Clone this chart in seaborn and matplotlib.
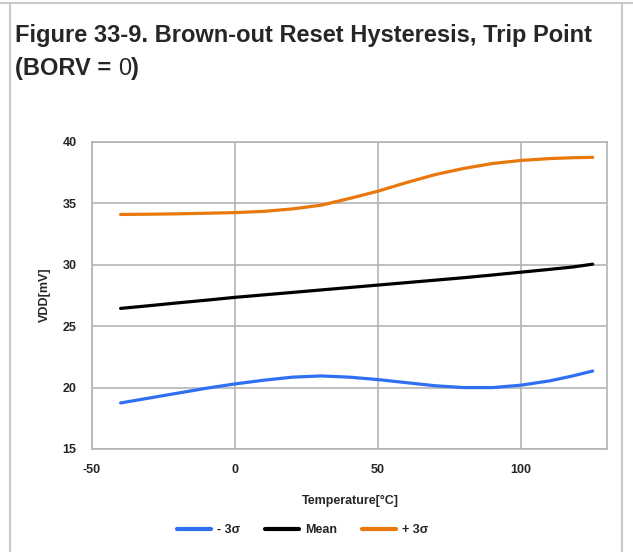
import matplotlib
matplotlib.use('Agg')
import matplotlib.pyplot as plt
from matplotlib.lines import Line2D
import pandas as pd
import seaborn as sns

# values
temps = [-40, -30, -20, -10, 0, 10, 20, 30, 40, 50, 60, 70, 80, 90, 100, 110, 118, 125]
minus_3s = [18.75, 19.15, 19.55, 19.95, 20.3, 20.6, 20.85, 20.95, 20.85, 20.65,
            20.4, 20.15, 20.0, 20.0, 20.2, 20.55, 20.95, 21.35]
mean = [26.45, 26.67, 26.9, 27.12, 27.35, 27.55, 27.75, 27.95, 28.15, 28.35,
        28.55, 28.75, 28.95, 29.17, 29.4, 29.63, 29.82, 30.05]
plus_3s = [34.1, 34.12, 34.15, 34.2, 34.25, 34.35, 34.55, 34.85, 35.4, 36.0,
           36.7, 37.35, 37.85, 38.25, 38.5, 38.65, 38.72, 38.75]

series = ['- 3σ', 'Mean', '+ 3σ']
colors = ['#2f6ff3', '#000000', '#e8770c']

n = len(temps)
df = pd.DataFrame({
    'Temperature': temps * 3,
    'VDD': minus_3s + mean + plus_3s,
    'series': [series[0]] * n + [series[1]] * n + [series[2]] * n,
})

sns.set_style('white')
plt.rcParams['font.family'] = ['Liberation Sans', 'DejaVu Sans']
plt.rcParams['axes.unicode_minus'] = False

W, H = 633, 552
fig = plt.figure(figsize=(W / 100, H / 100), dpi=100)
ax = fig.add_axes([92 / W, 1 - 449 / H, (607 - 92) / W, (449 - 142) / H])

sns.lineplot(data=df, x='Temperature', y='VDD', hue='series', hue_order=series,
             palette=dict(zip(series, colors)), linewidth=2.3, legend=False, ax=ax)

grey = '#b4b4b4'
ax.set_xlim(-50, 130)
ax.set_ylim(15, 40)
ax.set_xticks([-50, 0, 50, 100])
ax.set_xticks([-25, 25, 75, 125], minor=True)
ax.set_yticks([15, 20, 25, 30, 35, 40])
ax.set_yticks([17.5, 22.5, 27.5, 32.5, 37.5], minor=True)
ax.grid(True, which='major', color=grey, linewidth=1.2)
for s in ax.spines.values():
    s.set_color(grey)
    s.set_linewidth(1.2)
ax.tick_params(axis='y', which='major', direction='out', color=grey, width=1.2, length=8.5, pad=2.5)
ax.tick_params(axis='y', which='minor', direction='out', color=grey, width=1.2, length=4.3)
ax.tick_params(axis='x', which='major', direction='out', color=grey, width=1.2, length=6.5, pad=4)
ax.tick_params(axis='x', which='minor', direction='out', color=grey, width=1.2, length=3)
ax.tick_params(labelsize=9)
for lab in ax.get_xticklabels() + ax.get_yticklabels():
    lab.set_fontweight('bold')
ax.set_xlabel('')
ax.set_ylabel('')

fig.text(45 / W, 1 - 295 / H, 'VDD[mV]', rotation=90, ha='center', va='center',
         fontsize=9, fontweight='bold')
fig.text(350 / W, 1 - 501 / H, 'Temperature[°C]', ha='center', va='center',
         fontsize=9, fontweight='bold')

handles = [Line2D([], [], color=c, linewidth=3) for c in colors]
fig.legend(handles, series, loc='center', bbox_to_anchor=(303 / W, 1 - 530 / H), ncol=3,
           frameon=False, handlelength=2.7, handletextpad=0.5, columnspacing=2.0,
           prop={'size': 9, 'weight': 'bold'})

# title, with a plain-weight "0"
fig.text(15 / W, 1 - 42 / H, 'Figure 33-9. Brown-out Reset Hysteresis, Trip Point',
         fontsize=17, fontweight='bold', va='baseline')
t1 = fig.text(15 / W, 1 - 75 / H, '(BORV = ', fontsize=17, fontweight='bold', va='baseline')
fig.canvas.draw()
x1 = t1.get_window_extent().x1 / W
t2 = fig.text(x1, 1 - 75 / H, '0', fontsize=17, va='baseline')
fig.canvas.draw()
x2 = t2.get_window_extent().x1 / W
fig.text(x2, 1 - 75 / H, ')', fontsize=17, fontweight='bold', va='baseline')

# frame around the figure
border = '#c8c8c8'
fig.add_artist(Line2D([0, 1], [1 - 3 / H, 1 - 3 / H], color=border, linewidth=1.5))
fig.add_artist(Line2D([10 / W, 10 / W], [0, 1 - 3 / H], color=border, linewidth=1.5))
fig.add_artist(Line2D([622 / W, 622 / W], [0, 1 - 3 / H], color=border, linewidth=1.5))

fig.savefig('out.png', dpi=100)
